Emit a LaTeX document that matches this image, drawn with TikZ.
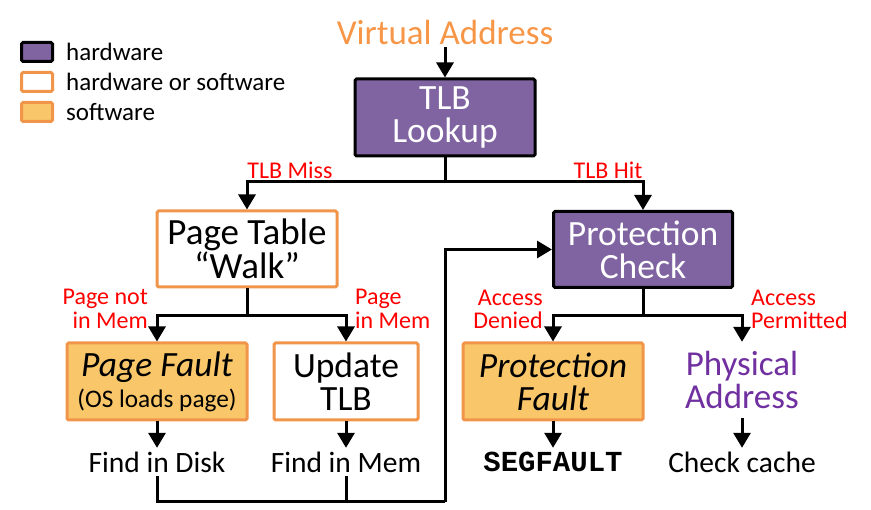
\documentclass[tikz,border=0pt]{standalone}
\usepackage{fontspec}
\setmainfont{Carlito}
\newfontfamily\segfont{Liberation Mono}
\usetikzlibrary{arrows.meta}
\definecolor{hwpurple}{HTML}{8064A2}
\definecolor{swfill}{HTML}{F9C76A}
\definecolor{orbord}{HTML}{F0954A}
\definecolor{vaorange}{HTML}{F79646}
\definecolor{papurple}{HTML}{7030A0}
\definecolor{lblred}{HTML}{FF0000}
\tikzset{
  boxfont/.style={font=\fontsize{35.5}{33}\selectfont},
  hwbox/.style={draw=black, fill=hwpurple, text=white, line width=3pt, rounded corners=1.5pt, inner sep=0pt, align=center, boxfont},
  hsbox/.style={draw=orbord, fill=white, text=black, line width=3pt, rounded corners=1.5pt, inner sep=0pt, align=center, boxfont},
  swbox/.style={draw=orbord, fill=swfill, text=black, line width=3pt, rounded corners=1.5pt, inner sep=0pt, align=center, boxfont},
  conn/.style={line width=3pt, line join=miter},
  arr/.style={line width=3pt, -{Triangle[width=17pt,length=15pt]}},
  lbl/.style={text=lblred, inner sep=0pt, font=\fontsize{24}{23.5}\selectfont},
  plain/.style={inner sep=0pt, minimum height=28pt, font=\fontsize{29.5}{30}\selectfont},
  legtxt/.style={anchor=west, inner sep=0pt, font=\fontsize{25}{25}\selectfont},
}
\begin{document}
\begin{tikzpicture}[x=1pt,y=-1pt]
\useasboundingbox (0,0) rectangle (871,510);
% legend
\node[hwbox, minimum width=31pt, minimum height=19pt] (lg1) at (37,52) {};
\node[hsbox, minimum width=31pt, minimum height=19pt] (lg2) at (37,82) {};
\node[swbox, minimum width=31pt, minimum height=19pt] (lg3) at (37,112) {};
\node[legtxt] (lt1) at (66,52) {hardware};
\node[legtxt] (lt2) at (66,82) {hardware or software};
\node[legtxt] (lt3) at (66,112) {software};
% top
\node[text=vaorange, inner sep=0pt, font=\fontsize{35}{34}\selectfont] (va) at (445,32) {Virtual Address};
\node[hwbox, minimum width=180pt, minimum height=77pt] (tlb) at (445,117.5) {TLB\\Lookup};
\coordinate (vas) at (445,47);
\draw[arr] (vas) -- (tlb.north);
% level 2
\node[hsbox, minimum width=180pt, minimum height=76pt, font=\fontsize{37}{33}\selectfont] (ptw) at (247,249) {Page Table\\``Walk''};
\node[hwbox, minimum width=179pt, minimum height=76pt] (pc) at (643,249.5) {Protection\\Check};
\coordinate (s1) at (445,182);
\draw[conn] (tlb.south) -- (s1);
\draw[arr] (s1) -| (ptw.north);
\draw[arr] (s1) -| (pc.north);
\node[lbl] (lmiss) at (290,170) {TLB Miss};
\node[lbl] (lhit) at (608,170) {TLB Hit};
% level 3
\node[swbox, minimum width=180pt, minimum height=77pt] (pf) at (157,381.5) {\textit{Page Fault}\\[-2pt]{\fontsize{25.3}{25}\selectfont (OS loads page)}};
\node[hsbox, minimum width=144pt, minimum height=77pt] (ut) at (346,381.5) {Update\\TLB};
\node[swbox, minimum width=180pt, minimum height=77pt] (pfa) at (553,381.5) {\textit{Protection}\\\textit{Fault}};
\node[text=papurple, inner sep=0pt, minimum height=76pt, align=center, font=\fontsize{35}{33}\selectfont] (pa) at (742,380) {Physical\\Address};
\coordinate (s2) at (247,316);
\draw[conn] (ptw.south) -- (s2);
\draw[arr] (s2) -| (pf.north);
\draw[arr] (s2) -| (ut.north);
\coordinate (s3) at (643,316);
\draw[conn] (pc.south) -- (s3);
\draw[arr] (s3) -| (pfa.north);
\draw[arr] (s3) -| (pa.north);
\node[lbl, anchor=east, align=right] (lpn) at (148,309) {Page not\\in Mem};
\node[lbl, anchor=west, align=left] (lpm) at (355,309) {Page\\in Mem};
\node[lbl, anchor=east, align=right] (lad) at (543,309.5) {Access\\Denied};
\node[lbl, anchor=west, align=left] (lap) at (751,309.5) {Access\\Permitted};
% bottom
\node[plain] (fid) at (157,462) {Find in Disk};
\node[plain] (fim) at (346,462) {Find in Mem};
\node[plain, font=\fontsize{29}{30}\segfont\bfseries] (seg) at (553,462) {SEGFAULT};
\node[plain] (cc) at (742,462) {Check cache};
\draw[arr] (pf.south) -- (fid.north);
\draw[arr] (ut.south) -- (fim.north);
\draw[arr] (pfa.south) -- (seg.north);
\draw[arr] (pa.south) -- (cc.north);
\coordinate (corner) at (445,502);
\draw[conn] (fid.south) |- (corner);
\draw[conn] (fim.south) -- (fim.south |- corner);
\draw[arr] (corner) |- (pc.west);
\end{tikzpicture}
\end{document}
